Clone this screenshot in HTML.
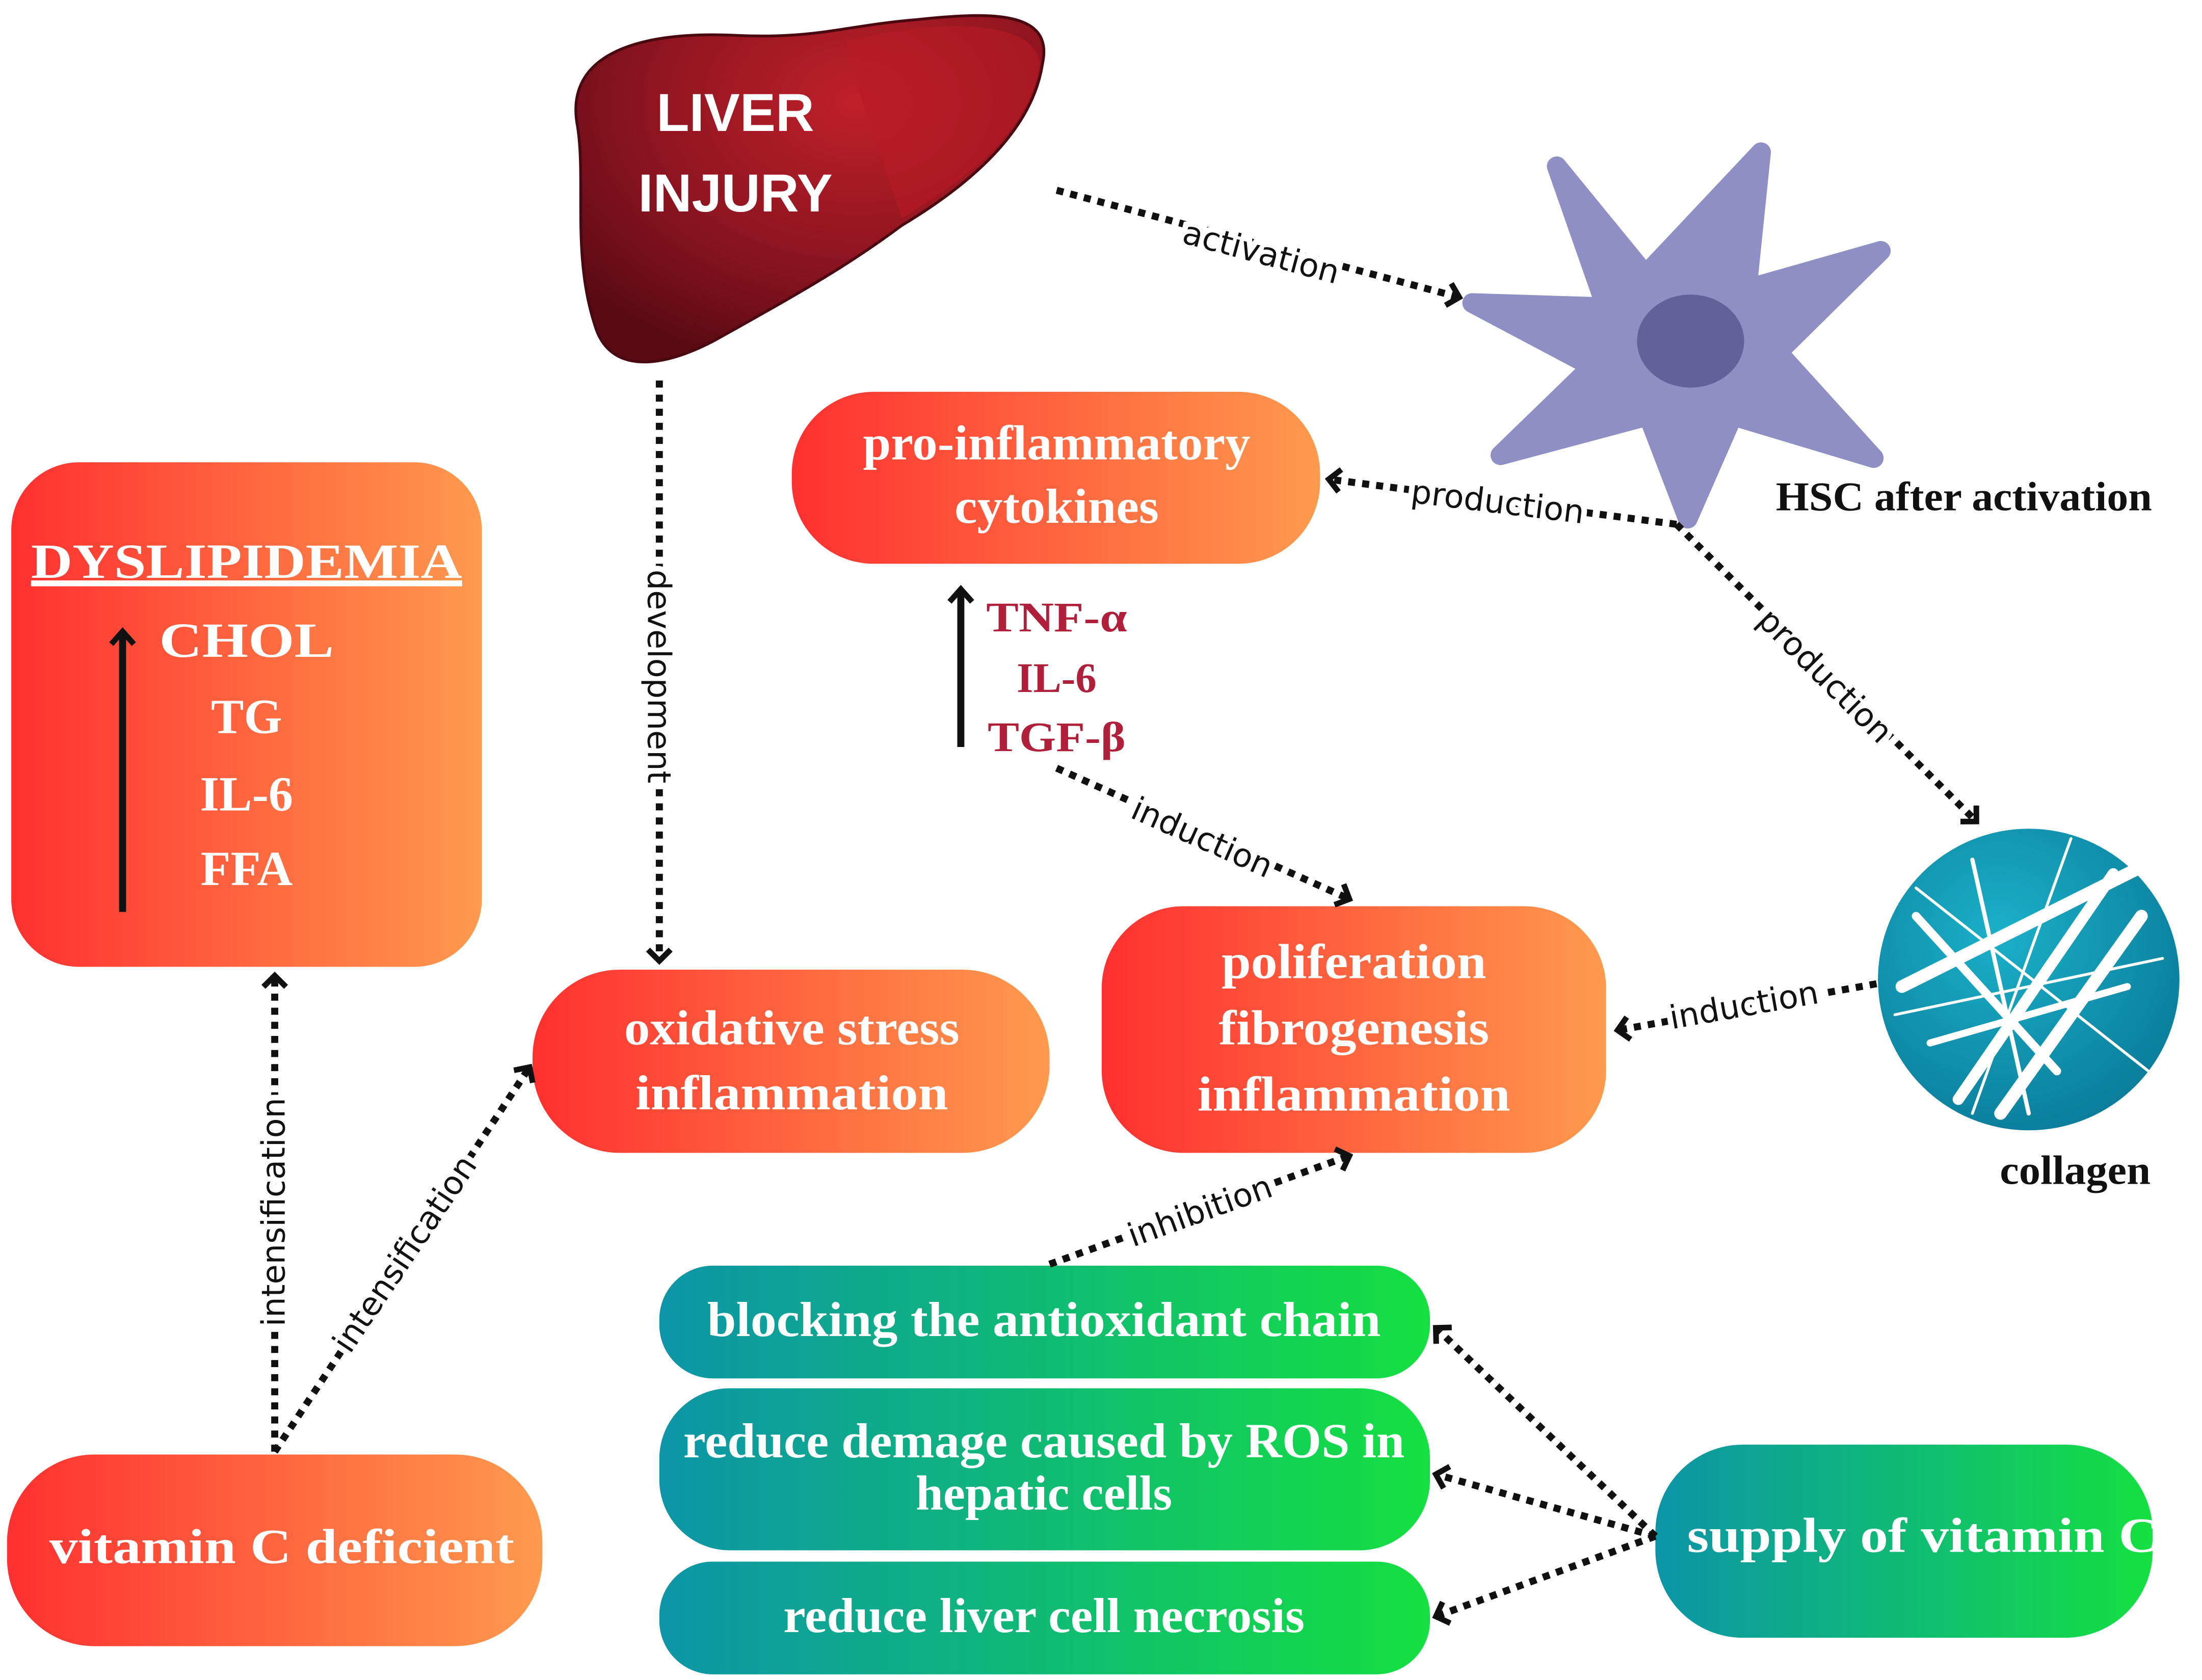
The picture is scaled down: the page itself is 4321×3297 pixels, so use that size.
<!DOCTYPE html>
<html><head><meta charset="utf-8"><style>
html,body{margin:0;padding:0;background:#fff;width:4321px;height:3297px;overflow:hidden}
svg{display:block}
.lbl{font-family:"DejaVu Sans","Liberation Sans",sans-serif;font-size:23px;fill:#111;stroke:#fff;stroke-width:8px;paint-order:stroke;}
.bx{font-family:"Liberation Serif",serif;font-weight:bold;font-size:35px;fill:#fff;text-anchor:middle}
.dl{stroke:#111;stroke-width:5;stroke-dasharray:5 5;fill:none}
</style></head><body>
<svg width="4321" height="3297" viewBox="0 0 1563 1192" preserveAspectRatio="none" xmlns="http://www.w3.org/2000/svg">
<defs>
<linearGradient id="rg" x1="0" x2="1" y1="0" y2="0"><stop offset="0" stop-color="#ff3030"/><stop offset="1" stop-color="#ff9a4e"/></linearGradient>
<linearGradient id="tg" x1="0" x2="1" y1="0" y2="0"><stop offset="0" stop-color="#0c95a8"/><stop offset="1" stop-color="#14e040"/></linearGradient>
<radialGradient id="lv" cx="0.6" cy="0.25" r="0.8"><stop offset="0" stop-color="#c0202a"/><stop offset="0.6" stop-color="#8a1420"/><stop offset="1" stop-color="#5a0a12"/></radialGradient>
<radialGradient id="cg" cx="0.4" cy="0.35" r="0.7"><stop offset="0" stop-color="#1bb0c8"/><stop offset="1" stop-color="#0a7c9a"/></radialGradient>
<marker id="ah" markerWidth="6" markerHeight="6" refX="4.2" refY="3" orient="auto" markerUnits="userSpaceOnUse" viewBox="0 0 6 6" style="overflow:visible">
<polyline points="-4,-5 4,3 -4,11" fill="none" stroke="#111" stroke-width="4"/>
</marker>
<marker id="sh" markerWidth="6" markerHeight="6" refX="3" refY="3" orient="auto" markerUnits="userSpaceOnUse" viewBox="0 0 6 6" style="overflow:visible">
<polyline points="-6,-5 3,3 -6,11" fill="none" stroke="#111" stroke-width="4"/>
</marker>
</defs>

<!-- liver -->
<path d="M410,90 C400,40 450,22 520,25 C580,28 600,18 650,14 C705,8 748,8 740,45 C733,92 690,130 640,160 C600,190 560,212 510,240 C470,262 432,266 422,230 C406,180 416,130 410,90 Z" fill="url(#lv)" stroke="#4a0810" stroke-width="2"/>
<path d="M600,30 C650,15 735,10 738,45 C732,90 690,125 640,155 C625,110 610,70 600,30 Z" fill="#b81a26" opacity="0.6"/>
<text x="522" y="93" font-family="Liberation Sans,sans-serif" font-weight="bold" font-size="38" fill="#fff" text-anchor="middle">LIVER</text>
<text x="522" y="150" font-family="Liberation Sans,sans-serif" font-weight="bold" font-size="38" fill="#fff" text-anchor="middle">INJURY</text>

<!-- HSC star -->
<polygon points="1105,118 1168,195 1250,108 1240,205 1335,178 1262,250 1330,325 1230,295 1198,368 1170,295 1065,323 1130,260 1045,215 1140,218" fill="#8f8fc6" stroke="#8f8fc6" stroke-width="14" stroke-linejoin="round"/>
<ellipse cx="1200" cy="242" rx="38" ry="33" fill="#63609a"/>
<text x="1394" y="362" font-family="Liberation Serif,serif" font-weight="bold" font-size="29" fill="#111" text-anchor="middle" textLength="267" lengthAdjust="spacingAndGlyphs">HSC after activation</text>

<!-- collagen -->
<circle cx="1440" cy="695" r="107" fill="url(#cg)"/>
<g stroke="#fff" stroke-linecap="round" fill="none">
<line x1="1350" y1="700" x2="1530" y2="610" stroke-width="9"/>
<line x1="1390" y1="780" x2="1500" y2="620" stroke-width="8"/>
<line x1="1420" y1="790" x2="1520" y2="650" stroke-width="9"/>
<line x1="1360" y1="650" x2="1460" y2="760" stroke-width="6"/>
<line x1="1370" y1="740" x2="1510" y2="700" stroke-width="5"/>
<line x1="1400" y1="610" x2="1440" y2="790" stroke-width="3"/>
<line x1="1345" y1="720" x2="1535" y2="680" stroke-width="2"/>
<line x1="1360" y1="630" x2="1525" y2="760" stroke-width="2"/>
<line x1="1470" y1="595" x2="1400" y2="790" stroke-width="2"/>
</g>
<text x="1473" y="840" font-family="Liberation Serif,serif" font-weight="bold" font-size="29" fill="#111" text-anchor="middle" textLength="107" lengthAdjust="spacingAndGlyphs">collagen</text>

<!-- red boxes -->
<rect x="562" y="278" width="375" height="122" rx="58" fill="url(#rg)"/>
<text class="bx" x="750" y="326" textLength="275" lengthAdjust="spacingAndGlyphs">pro-inflammatory</text>
<text class="bx" x="750" y="371" textLength="145" lengthAdjust="spacingAndGlyphs">cytokines</text>

<rect x="8" y="328" width="334" height="358" rx="48" fill="url(#rg)"/>
<text class="bx" x="175" y="410" font-size="40" text-decoration="underline" textLength="306" lengthAdjust="spacingAndGlyphs">DYSLIPIDEMIA</text>
<line x1="22" y1="415" x2="328" y2="415" stroke="#fff" stroke-width="2"/>
<text class="bx" x="175" y="466" font-size="44" textLength="124" lengthAdjust="spacingAndGlyphs">CHOL</text>
<text class="bx" x="175" y="520" font-size="44">TG</text>
<text class="bx" x="175" y="575" font-size="44">IL-6</text>
<text class="bx" x="175" y="628" font-size="44">FFA</text>
<line x1="87" y1="647" x2="87" y2="448" stroke="#111" stroke-width="5" marker-end="url(#sh)"/>

<rect x="378" y="688" width="367" height="130" rx="62" fill="url(#rg)"/>
<text class="bx" x="562" y="741" textLength="238" lengthAdjust="spacingAndGlyphs">oxidative stress</text>
<text class="bx" x="562" y="787" textLength="222" lengthAdjust="spacingAndGlyphs">inflammation</text>

<rect x="782" y="643" width="358" height="175" rx="58" fill="url(#rg)"/>
<text class="bx" x="961" y="694" textLength="188" lengthAdjust="spacingAndGlyphs">poliferation</text>
<text class="bx" x="961" y="741" textLength="192" lengthAdjust="spacingAndGlyphs">fibrogenesis</text>
<text class="bx" x="961" y="788" textLength="222" lengthAdjust="spacingAndGlyphs">inflammation</text>

<rect x="5" y="1032" width="380" height="136" rx="62" fill="url(#rg)"/>
<text class="bx" x="200" y="1109" textLength="330" lengthAdjust="spacingAndGlyphs">vitamin C deficient</text>

<!-- teal boxes -->
<rect x="468" y="898" width="547" height="80" rx="38" fill="url(#tg)"/>
<text class="bx" x="741" y="948" textLength="478" lengthAdjust="spacingAndGlyphs">blocking the antioxidant chain</text>
<rect x="468" y="985" width="547" height="115" rx="50" fill="url(#tg)"/>
<text class="bx" x="741" y="1034" textLength="512" lengthAdjust="spacingAndGlyphs">reduce demage caused by ROS in</text>
<text class="bx" x="741" y="1071" textLength="182" lengthAdjust="spacingAndGlyphs">hepatic cells</text>
<rect x="468" y="1108" width="547" height="80" rx="38" fill="url(#tg)"/>
<text class="bx" x="741" y="1158" textLength="370" lengthAdjust="spacingAndGlyphs">reduce liver cell necrosis</text>
<rect x="1175" y="1025" width="353" height="137" rx="62" fill="url(#tg)"/>
<text class="bx" x="1365" y="1101" textLength="335" lengthAdjust="spacingAndGlyphs">supply of vitamin C</text>

<!-- cytokine list -->
<line x1="682" y1="530" x2="682" y2="418" stroke="#111" stroke-width="5" marker-end="url(#sh)"/>
<g font-family="Liberation Serif,serif" font-weight="bold" font-size="30" fill="#b0203a" text-anchor="middle">
<text x="750" y="448" textLength="100" lengthAdjust="spacingAndGlyphs">TNF-α</text><text x="750" y="491">IL-6</text><text x="750" y="533" textLength="98" lengthAdjust="spacingAndGlyphs">TGF-β</text></g>

<!-- dotted connectors -->
<line class="dl" x1="750" y1="135" x2="1036" y2="211" marker-end="url(#ah)"/>
<line class="dl" x1="468" y1="270" x2="468" y2="682" marker-end="url(#ah)"/>
<polyline class="dl" points="1190,372 943,340" marker-end="url(#ah)"/>
<line class="dl" x1="1190" y1="372" x2="1403" y2="583" marker-end="url(#ah)"/>
<line class="dl" x1="750" y1="545" x2="958" y2="638" marker-end="url(#ah)"/>
<line class="dl" x1="1332" y1="698" x2="1148" y2="731" marker-end="url(#ah)"/>
<line class="dl" x1="745" y1="897" x2="958" y2="820" marker-end="url(#ah)"/>
<line class="dl" x1="195" y1="1030" x2="195" y2="692" marker-end="url(#ah)"/>
<line class="dl" x1="195" y1="1030" x2="376" y2="757" marker-end="url(#ah)"/>
<line class="dl" x1="1175" y1="1090" x2="1019" y2="942" marker-end="url(#ah)"/>
<line class="dl" x1="1175" y1="1090" x2="1019" y2="1046" marker-end="url(#ah)"/>
<line class="dl" x1="1175" y1="1090" x2="1019" y2="1147" marker-end="url(#ah)"/>

<!-- labels -->
<text class="lbl" x="895" y="187" text-anchor="middle" transform="rotate(15 895 180)">activation</text>
<text class="lbl" x="468" y="488" text-anchor="middle" transform="rotate(90 468 480)">development</text>
<text class="lbl" x="1063" y="364" text-anchor="middle" transform="rotate(7 1063 357)">production</text>
<text class="lbl" x="1295" y="487" text-anchor="middle" transform="rotate(45 1295 480)">production</text>
<text class="lbl" x="853" y="602" text-anchor="middle" transform="rotate(24 853 595)">induction</text>
<text class="lbl" x="1238" y="721" text-anchor="middle" transform="rotate(-10 1238 714)">induction</text>
<text class="lbl" x="852" y="867" text-anchor="middle" transform="rotate(-20 852 860)">inhibition</text>
<text class="lbl" x="195" y="867" text-anchor="middle" transform="rotate(-90 195 860)">intensification</text>
<text class="lbl" x="288" y="897" text-anchor="middle" transform="rotate(-56 288 890)">intensification</text>
</svg>
</body></html>
